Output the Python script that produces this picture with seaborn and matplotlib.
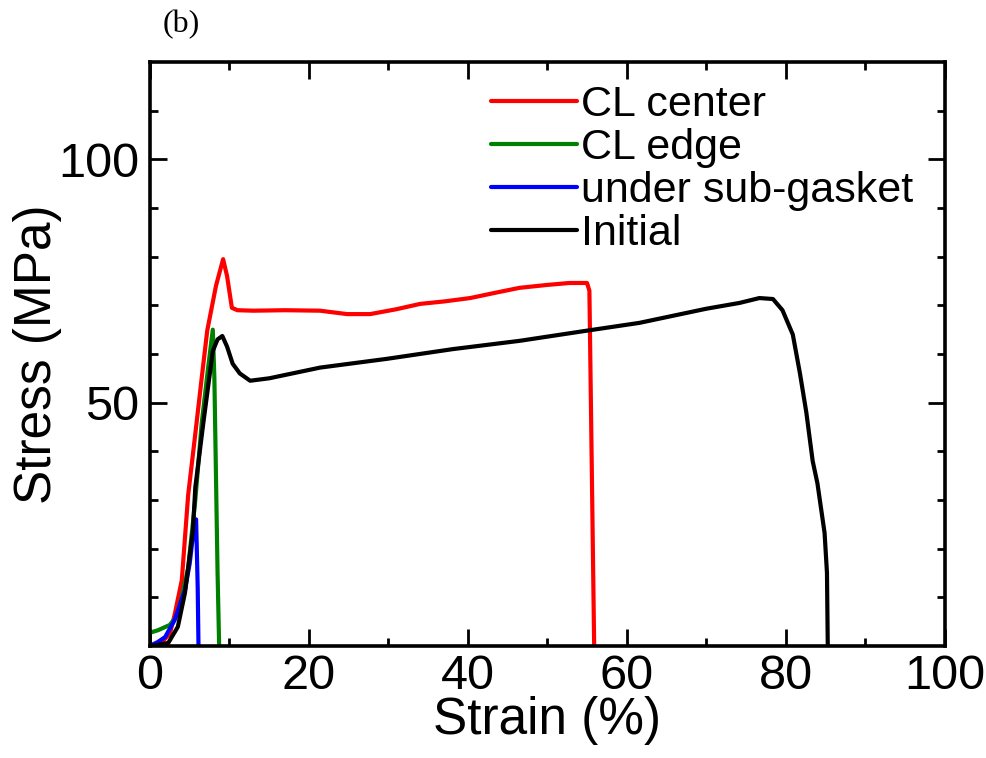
import numpy as np
import pandas as pd
import matplotlib
matplotlib.use("Agg")
import matplotlib.pyplot as plt
import seaborn as sns
from matplotlib.ticker import MultipleLocator, FixedLocator

# ---- data ----
center_strain = [0, 1.5, 2.5, 3.1, 4.0, 4.8, 5.7, 6.5, 7.2, 8.3, 9.2, 9.7, 10.3, 11.0, 13.0, 17.0,
                 21.4, 24.8, 27.7, 31.0, 34.0, 37.0, 40.3, 43.5, 46.5, 50.0, 52.8, 55.0, 55.3, 55.9]
center_stress = [0, 0.8, 2.5, 6.4, 13.5, 31.0, 43.6, 55.0, 64.8, 74.0, 79.5, 76.0, 69.5, 69.0, 68.9, 69.0,
                 68.9, 68.2, 68.2, 69.2, 70.3, 70.8, 71.5, 72.6, 73.6, 74.2, 74.6, 74.6, 73.0, 0]

edge_strain = [0, 1.0, 2.5, 3.3, 4.0, 4.8, 5.7, 6.5, 7.3, 7.9, 8.1, 8.3, 8.5, 8.7]
edge_stress = [2.7, 3.2, 4.3, 6.0, 10.0, 16.0, 30.0, 45.7, 57.0, 65.0, 55.0, 35.0, 15.0, 0]

gasket_strain = [0, 1.0, 1.9, 3.1, 4.4, 5.0, 5.5, 5.8, 6.0, 6.1]
gasket_stress = [0, 0.8, 1.8, 5.3, 11.5, 17.0, 24.0, 26.0, 12.0, 0]

initial_strain = [0, 1.0, 2.3, 3.5, 4.4, 5.4, 5.7, 6.7, 7.9, 8.5, 9.1, 9.7, 10.4, 11.3, 12.6, 15.0,
                  21.4, 29.8, 38.1, 46.5, 55.0, 61.6, 70.0, 74.2, 76.7, 78.4, 79.6, 80.9, 81.8,
                  82.6, 83.4, 84.0, 84.9, 85.2, 85.3]
initial_stress = [0, 0.2, 0.6, 3.9, 10.9, 23.8, 32.6, 45.7, 60.6, 63.0, 63.7, 61.5, 58.0, 56.0, 54.5, 55.0,
                  57.2, 59.0, 61.0, 62.7, 64.8, 66.4, 69.3, 70.5, 71.5, 71.3, 69.0, 64.0, 56.0,
                  48.0, 38.0, 33.4, 23.2, 15.0, 0]

labels = ["CL center", "CL edge", "under sub-gasket", "Initial"]
colors = ["#ff0000", "#008000", "#0000ff", "#000000"]

series = [(center_strain, center_stress), (edge_strain, edge_stress),
          (gasket_strain, gasket_stress), (initial_strain, initial_stress)]

sns.set_theme(style="white")
plt.rcParams['font.family'] = ['Liberation Sans', 'DejaVu Sans']
plt.rcParams['text.color'] = 'black'
plt.rcParams['axes.labelcolor'] = 'black'
plt.rcParams['xtick.color'] = 'black'
plt.rcParams['ytick.color'] = 'black'

fig = plt.figure(figsize=(9.87, 7.58), dpi=100)
ax = fig.add_axes([0.152, 0.148, 0.805, 0.770])

for (xs, ys), lab, col in zip(series, labels, colors):
    df = pd.DataFrame({"Strain": xs, "Stress": ys})
    sns.lineplot(data=df, x="Strain", y="Stress", sort=False, estimator=None,
                 color=col, linewidth=3.0, label=lab, ax=ax)

ax.set_xlim(0, 100)
ax.set_ylim(0, 120)
ax.xaxis.set_major_locator(MultipleLocator(20))
ax.xaxis.set_minor_locator(MultipleLocator(10))
ax.yaxis.set_major_locator(FixedLocator([50, 100]))
ax.yaxis.set_minor_locator(FixedLocator([10, 20, 30, 40, 60, 70, 80, 90, 110]))

ax.tick_params(which='both', direction='in', top=True, right=True, bottom=True, left=True,
               color='black', width=2.0, labelcolor='black')
ax.tick_params(which='major', length=12, labelsize=35, pad=8)
ax.tick_params(axis='x', which='major', pad=6)
ax.tick_params(which='minor', length=6)
for sp in ax.spines.values():
    sp.set_color('black')
    sp.set_linewidth(2.6)

ax.set_xlabel("Strain (%)", fontsize=37, labelpad=-2, color='black')
ax.set_ylabel("Stress (MPa)", fontsize=37, labelpad=-3, color='black')

leg = ax.legend(loc='upper left', bbox_to_anchor=(0.407, 0.99), frameon=False, fontsize=31,
                handlelength=2.0, handletextpad=0.1, labelspacing=0.07, borderaxespad=0)
for line in leg.get_lines():
    line.set_linewidth(3.0)
for t in leg.get_texts():
    t.set_color('black')

fig.text(0.184, 0.968, "(b)", fontsize=23, family=['Liberation Serif', 'DejaVu Serif'],
         va='center', ha='center', color='black')

fig.savefig("out.png", dpi=100)
